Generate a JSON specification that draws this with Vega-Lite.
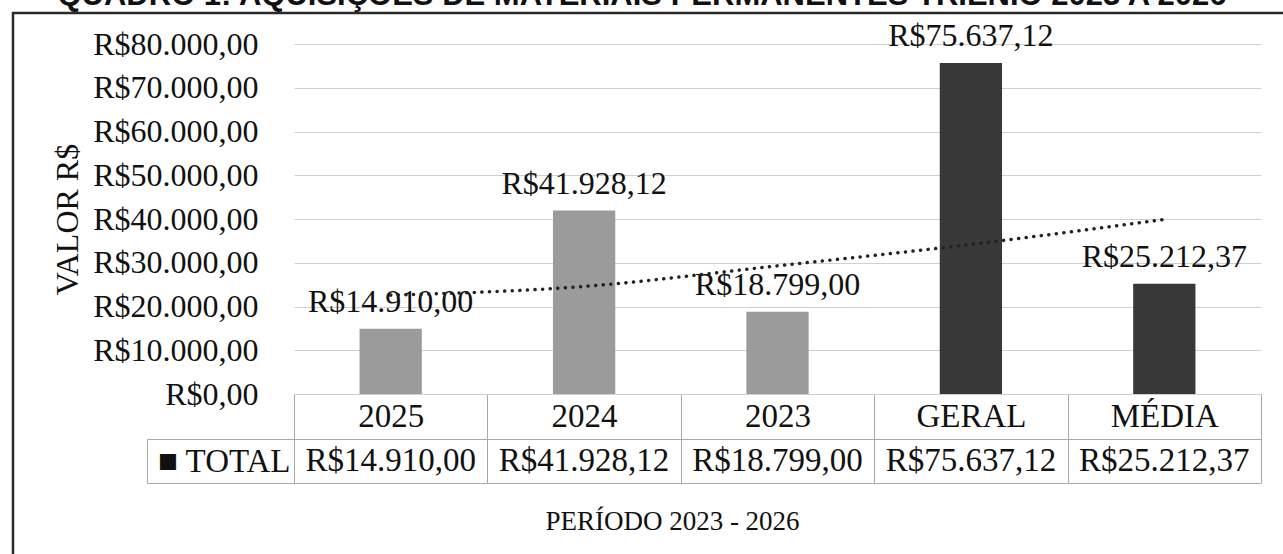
{
  "$schema": "https://vega.github.io/schema/vega-lite/v6.json",
  "width": 1290,
  "height": 560,
  "autosize": "none",
  "padding": {"left": 13, "top": 13, "right": 0, "bottom": 0},
  "background": "white",
  "title": {
    "text": "QUADRO 1: AQUISIÇÕES DE MATERIAIS PERMANENTES TRIÊNIO 2023 A 2026",
    "font": "Liberation Sans",
    "fontWeight": "bold",
    "fontSize": 31,
    "baseline": "alphabetic",
    "offset": -39,
    "anchor": "middle",
    "dx": -16,
    "color": "#111111"
  },
  "datasets": {
    "dados": [
      {"cat": "2025", "value": 14910.00, "tipo": "ano", "row": "TOTAL"},
      {"cat": "2024", "value": 41928.12, "tipo": "ano", "row": "TOTAL"},
      {"cat": "2023", "value": 18799.00, "tipo": "ano", "row": "TOTAL"},
      {"cat": "GERAL", "value": 75637.12, "tipo": "resumo", "row": "TOTAL"},
      {"cat": "MÉDIA", "value": 25212.37, "tipo": "resumo", "row": "TOTAL"}
    ],
    "tendencia": [
      {"cat": "2025", "trend": 22600},
      {"cat": "2024", "trend": 24600},
      {"cat": "2023", "trend": 29300},
      {"cat": "GERAL", "trend": 34200},
      {"cat": "MÉDIA", "trend": 39900}
    ]
  },
  "layer": [
    {
      "layer": [
        {
          "data": {"name": "dados"},
          "mark": {"type": "bar", "width": {"band": 0.322}},
          "encoding": {
            "x": {
              "field": "cat", "type": "nominal", "sort": null,
              "scale": {"type": "band", "range": [281, 1248], "paddingInner": 0, "paddingOuter": 0},
              "axis": {
                "orient": "bottom", "offset": -179,
                "domain": true, "domainColor": "#a8a8a8", "domainWidth": 1,
                "ticks": true, "tickBand": "extent", "tickSize": 89, "tickColor": "#a8a8a8", "tickWidth": 1,
                "grid": false,
                "labelAngle": 0, "labelFont": "Liberation Serif", "labelFontSize": 33, "labelColor": "#111111",
                "labelBaseline": "middle", "labelPadding": -66.5, "labelFlush": false, "labelOverlap": false,
                "title": "PERÍODO 2023 - 2026", "titleFont": "Liberation Serif", "titleFontSize": 27,
                "titleFontWeight": "normal", "titleColor": "#111111", "titlePadding": 25, "titleX": 659
              }
            },
            "y": {
              "field": "value", "type": "quantitative",
              "scale": {"domain": [0, 80000], "range": [381, 31], "nice": false, "zero": true},
              "axis": {
                "orient": "left", "offset": -281,
                "values": [0, 10000, 20000, 30000, 40000, 50000, 60000, 70000, 80000],
                "format": "$,.2f",
                "domain": false, "grid": false,
                "ticks": true, "tickSize": -967, "tickColor": "#d0d0d0", "tickWidth": 1,
                "labelPadding": 1003, "labelFont": "Liberation Serif", "labelFontSize": 32, "labelColor": "#111111",
                "labelOverlap": false,
                "title": "VALOR R$", "titleFont": "Liberation Serif", "titleFontSize": 32,
                "titleFontWeight": "normal", "titleColor": "#111111", "titlePadding": 10
              }
            },
            "color": {
              "field": "tipo", "type": "nominal",
              "scale": {"domain": ["ano", "resumo"], "range": ["#9b9b9b", "#383838"]},
              "legend": null
            }
          }
        },
        {
          "data": {"name": "dados"},
          "mark": {"type": "text", "baseline": "alphabetic", "align": "center", "dy": -17, "font": "Liberation Serif", "fontSize": 32, "color": "#111111"},
          "encoding": {
            "x": {"field": "cat", "type": "nominal", "sort": null},
            "y": {"field": "value", "type": "quantitative"},
            "text": {"field": "value", "type": "quantitative", "format": "$,.2f"}
          }
        },
        {
          "data": {"name": "tendencia"},
          "mark": {"type": "line", "strokeDash": [0.1, 7.5], "strokeCap": "round", "strokeWidth": 3.5, "color": "#222222", "interpolate": "monotone"},
          "encoding": {
            "x": {"field": "cat", "type": "nominal", "sort": null},
            "y": {"field": "trend", "type": "quantitative"}
          }
        }
      ]
    },
    {
      "data": {"name": "dados"},
      "mark": {"type": "text", "baseline": "middle", "align": "center", "font": "Liberation Serif", "fontSize": 33, "color": "#111111"},
      "encoding": {
        "x": {"field": "cat", "type": "nominal", "sort": null},
        "y": {
          "field": "row", "type": "nominal",
          "scale": {"type": "band", "range": [426, 470], "paddingInner": 0, "paddingOuter": 0},
          "axis": {
            "orient": "left", "offset": -134,
            "domain": true, "domainColor": "#a8a8a8", "domainWidth": 1,
            "ticks": true, "tickBand": "extent", "tickSize": -1114, "tickColor": "#a8a8a8", "tickWidth": 1,
            "grid": false,
            "labelPadding": 971, "labelExpr": "datum.label ? '■ ' + datum.label : ''",
            "labelFont": "Liberation Serif", "labelFontSize": 33, "labelColor": "#111111",
            "title": null
          }
        },
        "text": {"field": "value", "type": "quantitative", "format": "$,.2f"}
      }
    }
  ],
  "resolve": {"scale": {"y": "independent"}, "axis": {"y": "independent"}},
  "config": {
    "locale": {"number": {"decimal": ",", "thousands": ".", "grouping": [3], "currency": ["R$", ""]}},
    "view": {"stroke": "#2a2a2a", "strokeWidth": 2.5}
  }
}
